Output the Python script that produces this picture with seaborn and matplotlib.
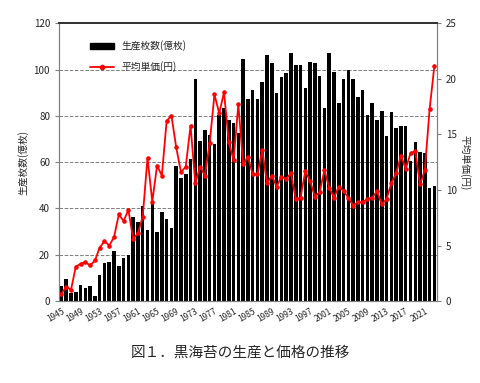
import matplotlib
matplotlib.use("Agg")
import matplotlib.pyplot as plt
import numpy as np
import pandas as pd
import seaborn as sns
from matplotlib.patches import Patch
from matplotlib.lines import Line2D

# Data (fiscal years 1945-2023)
years = list(range(1945, 2024))
production = [6.5, 9.6, 3.3, 3.7, 6.8, 5.8, 6.4, 2.2, 11.2, 16.4,
              17.0, 21.8, 15.0, 18.8, 20.0, 36.4, 34.3, 41.2, 30.6, 42.2,
              29.9, 38.4, 35.6, 31.5, 58.4, 53.2, 55.0, 61.4, 96.0, 69.0,
              73.9, 71.9, 68.0, 80.6, 83.5, 78.4, 77.0, 72.6, 104.7, 87.1,
              91.1, 87.4, 94.6, 106.4, 103.0, 90.0, 96.9, 98.6, 107.0, 101.8,
              101.8, 92.1, 103.2, 103.0, 97.2, 83.4, 107.1, 98.9, 85.6, 95.9,
              99.8, 96.0, 88.0, 91.1, 80.4, 85.8, 78.2, 82.1, 71.2, 81.6,
              74.8, 75.5, 75.5, 60.4, 68.6, 64.3, 64.0, 48.8, 49.5]
price = [0.65, 1.3, 1.0, 3.1, 3.35, 3.5, 3.2, 3.65, 4.8, 5.4,
         5.0, 5.75, 7.8, 7.2, 8.2, 5.6, 6.1, 7.6, 12.9, 8.95,
         12.2, 11.3, 16.2, 16.7, 13.85, 11.6, 12.1, 15.8, 10.6, 12.1,
         11.3, 14.2, 18.6, 16.9, 18.8, 14.3, 12.7, 17.7, 12.3, 13.0,
         11.4, 11.4, 13.6, 10.6, 11.3, 10.3, 11.2, 11.0, 11.5, 9.2,
         9.3, 11.7, 10.8, 9.4, 9.8, 11.8, 10.2, 9.3, 10.3, 9.9,
         9.3, 8.6, 8.9, 8.9, 9.2, 9.3, 9.9, 8.7, 9.2, 10.6,
         11.5, 13.1, 11.9, 13.3, 13.5, 10.5, 11.8, 17.3, 21.2]

bar_label = "生産枚数(億枚)"
line_label = "平均単価(円)"
caption = "図１．黒海苔の生産と価格の推移"

df = pd.DataFrame({"year": [str(y) for y in years],
                   "production": production, "price": price})

sns.set_style("white")
plt.rcParams["font.family"] = ["Noto Sans CJK JP", "DejaVu Sans"]

fig = plt.figure(figsize=(4.8, 3.83), dpi=100)
ax = fig.add_axes([0.123, 0.214, 0.787, 0.725])

sns.barplot(data=df, x="year", y="production", color="black",
            saturation=1, width=0.74, linewidth=0, ax=ax)
ax.set_ylim(0, 120)
ax.set_yticks(range(0, 121, 20))
ax.set_axisbelow(True)
ax.yaxis.grid(True, linestyle="--", color="#808080", linewidth=0.7)

ax2 = ax.twinx()
sns.pointplot(data=df, x="year", y="price", color="red", markers="o",
              markersize=2.3, linewidth=1.3, ax=ax2)
ax2.set_ylim(0, 25)
ax2.set_yticks(range(0, 26, 5))
ax2.grid(False)

n = len(years)
ax.set_xlim(-0.5, n - 0.5)
ax2.set_xlim(-0.5, n - 0.5)
ax.set_xticks(range(n))
ax.set_xticklabels([str(y) if (y - 1945) % 4 == 0 else "" for y in years],
                   rotation=30, ha="right", rotation_mode="anchor",
                   fontsize=6)
ax.tick_params(axis="x", length=2, pad=2, color="#808080")
ax.tick_params(axis="y", labelsize=7, length=3, color="#808080", left=True)
ax2.tick_params(axis="y", labelsize=7, length=3, color="#808080", right=True)

ax.set_xlabel("")
ax.set_ylabel(bar_label, fontsize=7)
ax2.set_ylabel(line_label, fontsize=7, rotation=270, labelpad=10)

for a in (ax, ax2):
    for side in ("left", "right", "bottom"):
        a.spines[side].set_color("#808080")
        a.spines[side].set_linewidth(0.8)
    a.spines["top"].set_color("#333333")
    a.spines["top"].set_linewidth(1.3)

handles = [Patch(facecolor="black", edgecolor="black"),
           Line2D([], [], color="red", marker="o", markersize=3, linewidth=1.3)]
ax2.legend(handles, [bar_label, line_label], loc="upper left",
           bbox_to_anchor=(0.06, 0.97), frameon=False, fontsize=7,
           handlelength=2.4, handleheight=0.6, labelspacing=1.0)

fig.text(0.5, 0.07, caption, ha="center", fontsize=10.5)

fig.savefig("out.png", dpi=100)
